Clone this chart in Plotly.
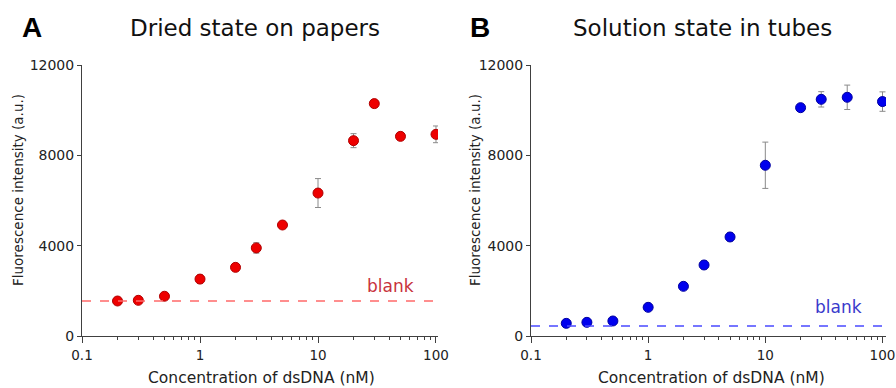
import plotly.graph_objects as go

conc = [0.2, 0.3, 0.5, 1, 2, 3, 5, 10, 20, 30, 50, 100]
paper_vals = [1550, 1580, 1760, 2520, 3040, 3900, 4915, 6330, 8650, 10290, 8840, 8930]
paper_err = [60, 60, 70, 180, 80, 230, 90, 640, 310, 60, 80, 370]
tube_vals = [560, 605, 665, 1270, 2200, 3145, 4385, 7560, 10110, 10480, 10570, 10380]
tube_err = [40, 40, 50, 60, 60, 180, 180, 1025, 80, 340, 540, 430]
paper_blank = 1550
tube_blank = 440
major_vals = [0.1, 1, 10, 100]
major_text = ["0.1", "1", "10", "100"]
minor_vals = [m * d for d in [0.1, 1, 10] for m in range(2, 10)]
ytick_vals = [0, 4000, 8000, 12000]
ytick_text = ["0", "4000", "8000", "12000"]

all_vals = major_vals + minor_vals
all_text = major_text + [""] * len(minor_vals)

FONT = "DejaVu Sans, sans-serif"
BFONT = "Liberation Sans, Arial, sans-serif"
AX = "#404040"
TXT = "#222222"

fig = go.Figure()

fig.add_trace(go.Scatter(
    x=conc, y=paper_vals, mode="markers",
    marker=dict(size=10, color="#ee0000", line=dict(color="#b00000", width=1)),
    error_y=dict(type="data", array=paper_err, color="#8a8a8a", thickness=1, width=3),
    xaxis="x", yaxis="y", showlegend=False))
fig.add_trace(go.Scatter(
    x=conc, y=tube_vals, mode="markers",
    marker=dict(size=10, color="#0000ee", line=dict(color="#0000a0", width=1)),
    error_y=dict(type="data", array=tube_err, color="#8a8a8a", thickness=1, width=3),
    xaxis="x2", yaxis="y2", showlegend=False))
# invisible traces so the major-tick overlay axes are drawn
fig.add_trace(go.Scatter(x=major_vals, y=[None] * 4, mode="markers", xaxis="x3", yaxis="y",
                         showlegend=False, hoverinfo="skip"))
fig.add_trace(go.Scatter(x=major_vals, y=[None] * 4, mode="markers", xaxis="x4", yaxis="y2",
                         showlegend=False, hoverinfo="skip"))

xcommon = dict(type="log", tickmode="array", tickvals=all_vals, ticktext=all_text,
               ticks="outside", ticklen=3, tickcolor=AX, tickwidth=1, showline=True,
               linecolor=AX, linewidth=1, showgrid=False, zeroline=False, automargin=False,
               ticklabelstandoff=4, ticklabeloverflow="allow",
               tickfont=dict(family=FONT, size=13.5, color=TXT))
xmajor = dict(type="log", tickmode="array", tickvals=major_vals,
              ticks="outside", ticklen=6, tickcolor=AX, tickwidth=1, showline=False,
              showgrid=False, zeroline=False, showticklabels=False, automargin=False)
ycommon = dict(range=[0, 12000], tickmode="array", tickvals=ytick_vals, ticktext=ytick_text,
               ticks="outside", ticklen=4, tickcolor=AX, showline=True, linecolor=AX,
               linewidth=1, showgrid=False, zeroline=False, automargin=False,
               ticklabeloverflow="allow",
               tickfont=dict(family=FONT, size=14, color=TXT))

dom1 = [82 / 896, 438 / 896]
dom2 = [531 / 896, 886 / 896]
r1 = [-1, 2.017]
r2 = [-1, 2.03]
ydom = [(388 - 336) / 388, (388 - 65) / 388]
fig.update_layout(
    width=896, height=388,
    margin=dict(l=0, r=0, t=0, b=0, autoexpand=False),
    paper_bgcolor="white", plot_bgcolor="white",
    xaxis=dict(xcommon, domain=dom1, range=r1, anchor="y"),
    yaxis=dict(ycommon, domain=ydom, anchor="x"),
    xaxis2=dict(xcommon, domain=dom2, range=r2, anchor="y2"),
    yaxis2=dict(ycommon, domain=ydom, anchor="x2"),
    xaxis3=dict(xmajor, domain=dom1, range=r1, anchor="y", overlaying="x"),
    xaxis4=dict(xmajor, domain=dom2, range=r2, anchor="y2", overlaying="x2"),
    shapes=[
        dict(type="line", xref="x domain", yref="y", x0=0, x1=1, y0=paper_blank, y1=paper_blank,
             line=dict(color="#ff6a6a", width=1.5, dash="dash")),
        dict(type="line", xref="x2 domain", yref="y2", x0=0, x1=1, y0=tube_blank, y1=tube_blank,
             line=dict(color="#4a4aff", width=1.5, dash="dash")),
    ],
)

annots = [
    dict(text="<b>A</b>", x=32, y=28, size=28, color="black", font=BFONT),
    dict(text="<b>B</b>", x=480, y=28, size=28, color="black", font=BFONT),
    dict(text="Dried state on papers", x=255, y=28, size=23, color="#111", font=FONT),
    dict(text="Solution state in tubes", x=702, y=28, size=23, color="#111", font=FONT),
    dict(text="Concentration of dsDNA (nM)", x=261, y=378, size=15.5, color=TXT, font=FONT),
    dict(text="Concentration of dsDNA (nM)", x=711, y=378, size=15.5, color=TXT, font=FONT),
    dict(text="blank", x=390, y=286, size=17, color="#c8323c", font=FONT),
    dict(text="blank", x=838, y=307, size=17, color="#3a3acc", font=FONT),
]
for a in annots:
    fig.add_annotation(text=a["text"], xref="paper", yref="paper",
                       x=a["x"] / 896, y=1 - a["y"] / 388, xanchor="center", yanchor="middle",
                       showarrow=False, font=dict(family=a["font"], size=a["size"], color=a["color"]))
for xp in [18, 475]:
    fig.add_annotation(text="Fluorescence intensity (a.u.)", xref="paper", yref="paper",
                       x=xp / 896, y=1 - 190 / 388, xanchor="center", yanchor="middle",
                       textangle=-90, showarrow=False,
                       font=dict(family=FONT, size=13.5, color=TXT))

fig.write_html("out.html")
